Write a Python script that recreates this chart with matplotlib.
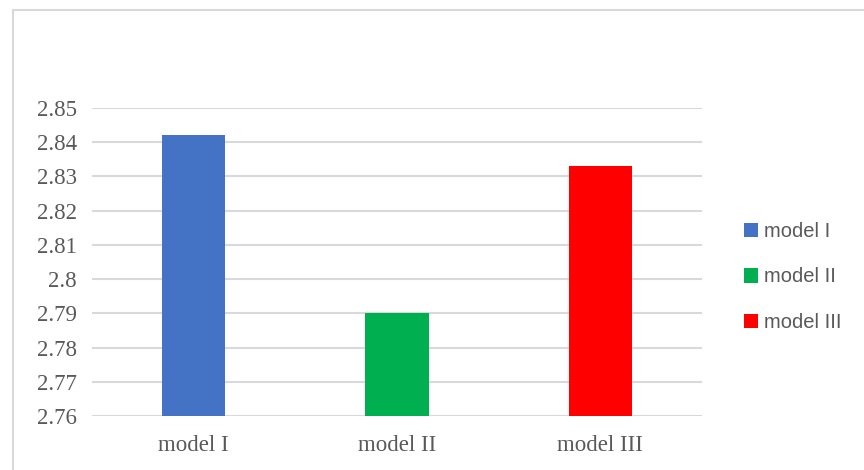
import matplotlib.pyplot as plt
from matplotlib.lines import Line2D
from matplotlib.patches import Patch

# model scores
models = ['model I', 'model II', 'model III']
scores = [2.842, 2.790, 2.833]
colors = ['#4472C4', '#00B050', '#FF0000']
yticks = [2.76, 2.77, 2.78, 2.79, 2.80, 2.81, 2.82, 2.83, 2.84, 2.85]
ytick_labels = ['2.76', '2.77', '2.78', '2.79', '2.8', '2.81', '2.82', '2.83', '2.84', '2.85']

W, H = 864, 470
fig = plt.figure(figsize=(W / 100, H / 100), dpi=100)
ax = fig.add_axes([92 / W, 1 - 416 / H, (702 - 92) / W, (416 - 108) / H])

x = range(len(models))
ax.bar(x, [s - 2.76 for s in scores], bottom=2.76, width=0.31, color=colors, zorder=3)

ax.set_ylim(2.76, 2.85)
ax.set_xlim(-0.5, len(models) - 0.5)
ax.set_yticks(yticks)
ax.set_yticklabels(ytick_labels)
ax.set_xticks(list(x))
ax.set_xticklabels(models)
ax.grid(axis='y', color='#d9d9d9', linewidth=1.5, zorder=0)
for s in ax.spines.values():
    s.set_visible(False)
ax.tick_params(length=0, colors='#595959')
ax.tick_params(axis='y', pad=11)
ax.tick_params(axis='x', pad=14)
for lab in ax.get_xticklabels() + ax.get_yticklabels():
    lab.set_fontfamily('Liberation Serif')
    lab.set_fontsize(16.5)
    lab.set_color('#595959')

handles = [Patch(facecolor=c, edgecolor='none') for c in colors]
fig.legend(handles, models, loc='center left', bbox_to_anchor=(726 / W, 1 - 277 / H),
           frameon=False, prop={'family': 'Liberation Sans', 'size': 14.5},
           labelcolor='#595959', handlelength=0.7, handleheight=0.7,
           handletextpad=0.3, labelspacing=1.3)

# chart frame (left and top edges)
fig.add_artist(Line2D([13 / W, 13 / W], [0, 1 - 10 / H], transform=fig.transFigure,
                      color='#d9d9d9', linewidth=1.5))
fig.add_artist(Line2D([13 / W, 1], [1 - 10 / H, 1 - 10 / H], transform=fig.transFigure,
                      color='#d9d9d9', linewidth=1.5))

fig.savefig('out.png', dpi=100)
